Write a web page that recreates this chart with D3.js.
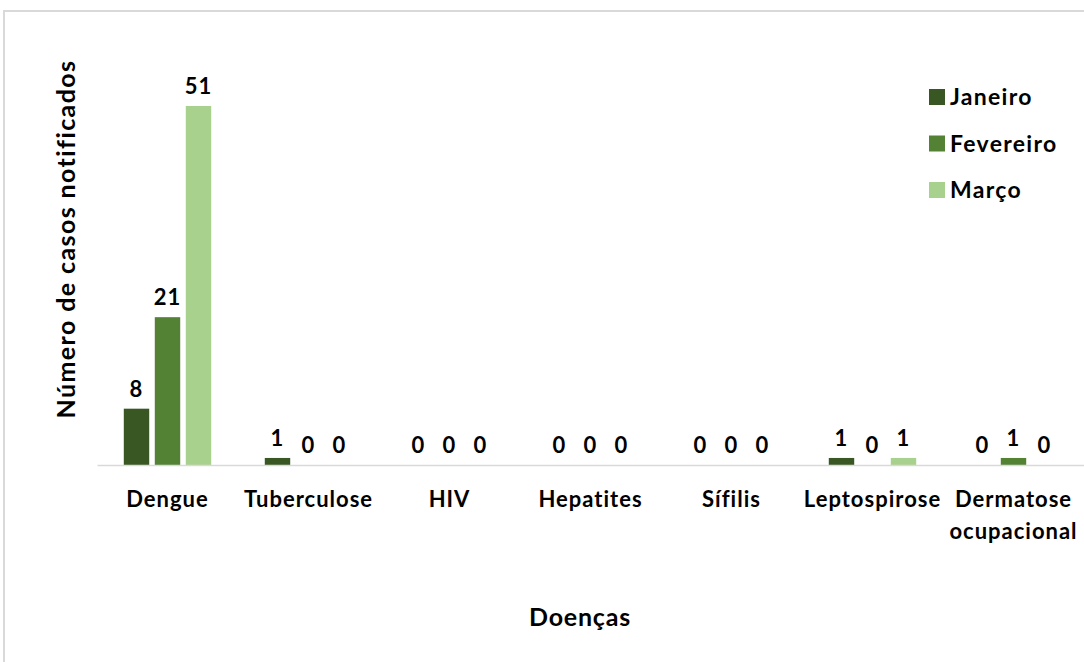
<!DOCTYPE html>
<html>
<head>
<meta charset="utf-8">
<script src="https://cdn.jsdelivr.net/npm/d3@7"></script>
<style>
  body { margin: 0; background: #fff; }
  svg text { font-family: Lato, "Open Sans", sans-serif; font-weight: 700; fill: #000; }
</style>
</head>
<body>
<div id="chart-area"></div>
<script>
const diseases = ["Dengue", "Tuberculose", "HIV", "Hepatites", "Sífilis", "Leptospirose", "Dermatose ocupacional"];
const months = ["Janeiro", "Fevereiro", "Março"];
const janeiro = [8, 1, 0, 0, 0, 1, 0];
const fevereiro = [21, 0, 0, 0, 0, 0, 1];
const marco = [51, 0, 0, 0, 0, 1, 0];
const monthColors = ["#385723", "#548235", "#a9d18e"];

const seriesValues = [janeiro, fevereiro, marco];
const rows = diseases.map((name, i) => ({
  name,
  values: months.map((m, j) => ({ month: m, value: seriesValues[j][i] }))
}));

const chartSize = { width: 1084, height: 662 };
const margin = { left: 97, right: 0, top: 106, bottom: 197 };
const width = chartSize.width - margin.left - margin.right;
const height = chartSize.height - margin.top - margin.bottom;

const svg = d3
  .select("#chart-area")
  .append("svg")
  .attr("width", chartSize.width)
  .attr("height", chartSize.height);

// chart frame
svg.append("rect")
  .attr("x", 4)
  .attr("y", 11)
  .attr("width", 1100)
  .attr("height", 700)
  .attr("fill", "none")
  .attr("stroke", "#d9d9d9")
  .attr("stroke-width", 2);

const x = d3.scaleBand().domain(diseases).range([0, width]).paddingInner(0.38).paddingOuter(0.19);
const xm = d3.scaleBand().domain(months).range([0, x.bandwidth()]).paddingInner(0.18);
const y = d3.scaleLinear().domain([0, d3.max(marco)]).range([height, 0]);
const color = d3.scaleOrdinal().domain(months).range(monthColors);

const g = svg.append("g").attr("transform", `translate(${margin.left},${margin.top})`);

const groups = g.selectAll(".grp")
  .data(rows)
  .enter()
  .append("g")
  .attr("class", "grp")
  .attr("transform", d => `translate(${x(d.name)},0)`);

groups.selectAll("rect")
  .data(d => d.values)
  .enter()
  .append("rect")
  .attr("x", d => xm(d.month))
  .attr("y", d => y(d.value))
  .attr("width", xm.bandwidth())
  .attr("height", d => y(0) - y(d.value))
  .attr("fill", d => color(d.month));

groups.selectAll(".lbl")
  .data(d => d.values)
  .enter()
  .append("text")
  .attr("class", "lbl")
  .attr("x", d => xm(d.month) + xm.bandwidth() / 2)
  .attr("y", d => y(d.value) - 12)
  .attr("text-anchor", "middle")
  .style("font-size", "22px")
  .style("letter-spacing", "1px")
  .text(d => d.value);

// baseline axis
const xAxis = d3.axisBottom(x).tickSize(0).tickPadding(26);
const ax = g.append("g")
  .attr("transform", `translate(0,${height})`)
  .call(xAxis);
ax.select(".domain").attr("stroke", "#d9d9d9").attr("stroke-width", 1.5);
ax.selectAll("text")
  .style("font-size", "22px")
  .style("letter-spacing", "1px")
  .each(function (d) {
    const words = d.split(" ");
    if (words.length > 1) {
      const t = d3.select(this).text(null);
      words.forEach((w, i) => {
        t.append("tspan").attr("x", 0).attr("dy", i === 0 ? "0.71em" : "1.45em").text(w);
      });
    }
  });

// axis titles
svg.append("text")
  .attr("transform", "rotate(-90)")
  .attr("x", -239)
  .attr("y", 75)
  .attr("text-anchor", "middle")
  .style("font-size", "25px")
  .style("letter-spacing", "1.4px")
  .text("Número de casos notificados");

svg.append("text")
  .attr("x", 580)
  .attr("y", 626)
  .attr("text-anchor", "middle")
  .style("font-size", "25px")
  .style("letter-spacing", "0.8px")
  .text("Doenças");

// legend
const legend = svg.append("g").attr("transform", "translate(929,89)");
const items = legend.selectAll("g")
  .data(months)
  .enter()
  .append("g")
  .attr("transform", (d, i) => `translate(0,${i * 46.5})`);
items.append("rect")
  .attr("width", 16)
  .attr("height", 16)
  .attr("fill", d => color(d));
items.append("text")
  .attr("x", 21)
  .attr("y", 16)
  .style("font-size", "23px")
  .style("letter-spacing", "1.3px")
  .text(d => d);
</script>
</body>
</html>
